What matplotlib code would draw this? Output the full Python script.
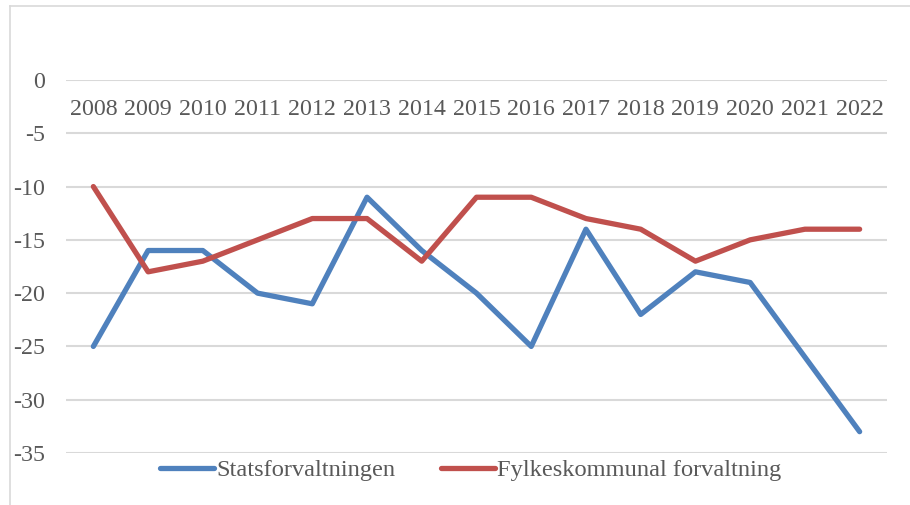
import matplotlib.pyplot as plt
from matplotlib.lines import Line2D

years = [str(y) for y in range(2008, 2023)]
stats = [-25, -16, -16, -20, -21, -11, -16, -20, -25, -14, -22, -18, -19, -26, -33]
fylke = [-10, -18, -17, -15, -13, -13, -17, -11, -11, -13, -14, -17, -15, -14, -14]
yticks = [0, -5, -10, -15, -20, -25, -30, -35]

plt.rcParams['font.family'] = ['Liberation Serif', 'DejaVu Serif']
txt = '#595959'
grid = '#D9D9D9'

W, H = 910, 505
fig = plt.figure(figsize=(W / 100, H / 100), dpi=100)
ax = fig.add_axes([66 / W, 1 - 453 / H, (887 - 66) / W, (453 - 80) / H])

x = list(range(len(years)))
ax.plot(x, stats, color='#4F81BD', lw=3.8, solid_capstyle='round', solid_joinstyle='round',
        label='Statsforvaltningen', zorder=3)
ax.plot(x, fylke, color='#C0504D', lw=3.8, solid_capstyle='round', solid_joinstyle='round',
        label='Fylkeskommunal forvaltning', zorder=3)

ax.set_xlim(-0.5, len(years) - 0.5)
ax.set_ylim(-35, 0)
ax.set_yticks(yticks)
ax.set_yticklabels([str(v) for v in yticks])
ax.set_xticks([])
for t in yticks:
    ax.axhline(t, color=grid, lw=1.5, zorder=1)
for s in ax.spines.values():
    s.set_visible(False)
ax.tick_params(axis='y', length=0, pad=15, labelsize=17.3, labelcolor=txt)

for i, yr in enumerate(years):
    ax.text(i, -2.75, yr, ha='center', va='center', fontsize=17.3, color=txt)

leg = fig.legend(loc='center', bbox_to_anchor=(471 / W, 1 - 470 / H), ncol=2, frameon=False,
                 fontsize=17.6, handlelength=2.2, handletextpad=0.1, columnspacing=1.85,
                 labelcolor=txt)

# outer chart frame
fig.add_artist(Line2D([10 / W, 10 / W], [0, 1 - 6 / H], color=grid, lw=1.2))
fig.add_artist(Line2D([10 / W, 1], [1 - 6 / H, 1 - 6 / H], color=grid, lw=1.2))

fig.savefig('out.png', dpi=100)
